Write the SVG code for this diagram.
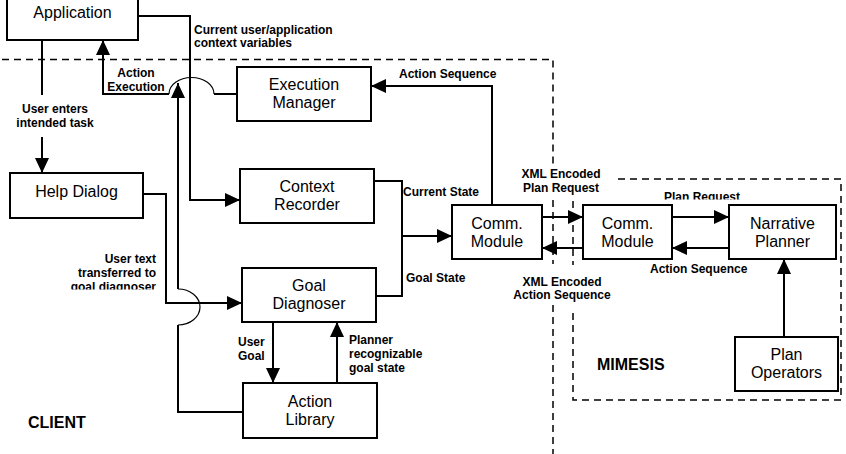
<svg xmlns="http://www.w3.org/2000/svg" width="846" height="454" viewBox="0 0 846 454">
<style>
.box{fill:#fff;stroke:#000;stroke-width:2}
.nt{font-family:"Liberation Sans",Arial,sans-serif;font-size:16px;fill:#000;text-anchor:middle}
.lb{font-family:"Liberation Sans",Arial,sans-serif;font-size:12px;font-weight:bold;fill:#000}
.big{font-family:"Liberation Sans",Arial,sans-serif;font-size:16px;font-weight:bold;fill:#000}
.ln{fill:none;stroke:#000;stroke-width:2}
.hop{fill:none;stroke:#000;stroke-width:1.2}
.arr{marker-end:url(#ah)}
.dash{fill:none;stroke:#000;stroke-width:1.5;stroke-dasharray:7 5}
.m{text-anchor:middle}
.e{text-anchor:end}
</style>
<defs>
<marker id="ah" viewBox="0 0 15 14" markerWidth="15" markerHeight="14" markerUnits="userSpaceOnUse" refX="15" refY="7" orient="auto">
<path d="M0,0 L15,7 L0,14 z" fill="#000"/>
</marker>
<clipPath id="c1"><rect x="0" y="0" width="846" height="289.5"/></clipPath>
<clipPath id="c2"><rect x="0" y="0" width="846" height="199.5"/></clipPath>
</defs>
<rect width="846" height="454" fill="#fff"/>

<g id="boundaries">
<path class="dash" d="M2,59.5 H553 V165 M553,200 V264 M553,305 V454"/>
<path class="dash" d="M573,201 V265 M573,313 V400 H841 V179 H618"/>
</g>

<g id="connectors">
<path class="ln arr" d="M138,16 H190 V200 H240"/>
<path class="ln" d="M237,94 H214"/>
<path class="hop" d="M214,94 A22.5,16.5 0 0 0 169,94"/>
<path class="ln arr" d="M169,94 H103 V40"/>
<path class="ln" d="M243,412 H178 V325"/>
<path class="hop" d="M178,325 A22,18 0 0 0 178,289"/>
<path class="ln arr" d="M178,289 V83"/>
<path class="ln" d="M42,40 V95"/>
<path class="ln arr" d="M42,137 V173"/>
<path class="ln arr" d="M143,194 H166 V303 H242"/>
<path class="ln" d="M374,181 H402 V296 H376"/>
<path class="ln arr" d="M402,236 H452"/>
<path class="ln arr" d="M492,205 V86 H371"/>
<path class="ln arr" d="M542,217 H583"/>
<path class="ln arr" d="M583,248 H542"/>
<path class="ln arr" d="M672,217 H729"/>
<path class="ln arr" d="M729,248 H672"/>
<path class="ln arr" d="M784,337 V259"/>
<path class="ln arr" d="M273,322 V383"/>
<path class="ln arr" d="M337,383 V322"/>
</g>

<g id="labels">
<text class="lb" x="194" y="34">Current user/application</text>
<text class="lb" x="194" y="47">context variables</text>
<text class="lb m" x="136" y="77">Action</text>
<text class="lb m" x="136" y="91">Execution</text>
<text class="lb m" x="55" y="113">User enters</text>
<text class="lb m" x="55" y="127">intended task</text>
<text class="lb" x="399" y="78">Action Sequence</text>
<text class="lb" x="403" y="196">Current State</text>
<text class="lb" x="406" y="282">Goal State</text>
<text class="lb m" x="561" y="178">XML Encoded</text>
<text class="lb m" x="561" y="192">Plan Request</text>
<text class="lb" x="664" y="201" clip-path="url(#c2)">Plan Request</text>
<text class="lb" x="650" y="273">Action Sequence</text>
<text class="lb m" x="562" y="286">XML Encoded</text>
<text class="lb m" x="562" y="299">Action Sequence</text>
<text class="lb e" x="156" y="263">User text</text>
<text class="lb e" x="156" y="277">transferred to</text>
<text class="lb e" x="156" y="290.5" clip-path="url(#c1)">goal diagnoser</text>
<text class="lb" x="238" y="346">User</text>
<text class="lb" x="238" y="360">Goal</text>
<text class="lb" x="349" y="344">Planner</text>
<text class="lb" x="349" y="358">recognizable</text>
<text class="lb" x="349" y="372">goal state</text>
<text class="big" x="28" y="428">CLIENT</text>
<text class="big" x="597" y="370">MIMESIS</text>
</g>

<g id="application">
<rect class="box" x="7" y="-10" width="131" height="50"/>
<text class="nt" x="72.5" y="18">Application</text>
</g>
<g id="help-dialog">
<rect class="box" x="10" y="173" width="133" height="45"/>
<text class="nt" x="76.5" y="197">Help Dialog</text>
</g>
<g id="execution-manager">
<rect class="box" x="237" y="67" width="134" height="54"/>
<text class="nt" x="304" y="90">Execution</text>
<text class="nt" x="304" y="108">Manager</text>
</g>
<g id="context-recorder">
<rect class="box" x="240" y="169" width="134" height="54"/>
<text class="nt" x="307" y="192">Context</text>
<text class="nt" x="307" y="210">Recorder</text>
</g>
<g id="goal-diagnoser">
<rect class="box" x="242" y="268" width="134" height="54"/>
<text class="nt" x="309" y="291">Goal</text>
<text class="nt" x="309" y="309">Diagnoser</text>
</g>
<g id="action-library">
<rect class="box" x="243" y="383" width="134" height="55"/>
<text class="nt" x="310" y="407">Action</text>
<text class="nt" x="310" y="425">Library</text>
</g>
<g id="client-comm-module">
<rect class="box" x="452" y="205" width="90" height="54"/>
<text class="nt" x="497" y="229">Comm.</text>
<text class="nt" x="497" y="247">Module</text>
</g>
<g id="mimesis-comm-module">
<rect class="box" x="583" y="205" width="89" height="54"/>
<text class="nt" x="627.5" y="229">Comm.</text>
<text class="nt" x="627.5" y="247">Module</text>
</g>
<g id="narrative-planner">
<rect class="box" x="729" y="205" width="107" height="54"/>
<text class="nt" x="782.5" y="229">Narrative</text>
<text class="nt" x="782.5" y="247">Planner</text>
</g>
<g id="plan-operators">
<rect class="box" x="735" y="337" width="103" height="54"/>
<text class="nt" x="786.5" y="360">Plan</text>
<text class="nt" x="786.5" y="378">Operators</text>
</g>
</svg>
